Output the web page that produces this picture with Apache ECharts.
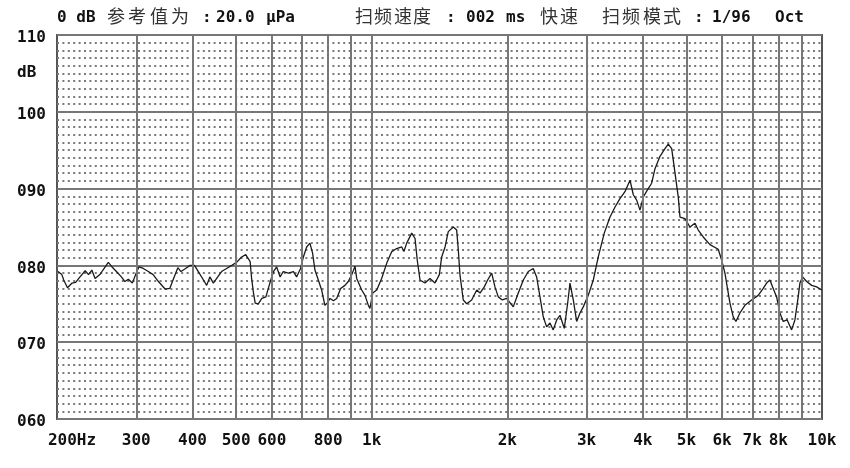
<!DOCTYPE html>
<html><head><meta charset="utf-8">
<script src="https://cdn.jsdelivr.net/npm/echarts@6/dist/echarts.min.js"></script>
<style>html,body{margin:0;padding:0;background:#fff}#c{width:850px;height:468px}</style>
</head><body><div id="c"></div>
<script>
// ---- data ----
const freqHz = [201,205,207,211,216,220,225,231,235,239,243,249,253,260,265,271,278,283,288,294,299,304,311,319,327,336,348,356,362,371,377,386,395,404,412,423,430,437,445,455,464,476,489,501,514,525,537,541,546,551,560,570,582,594,605,615,626,636,653,670,681,695,705,717,729,739,748,761,774,787,797,808,822,836,853,872,887,903,918,926,950,966,983,991,1005,1026,1052,1080,1108,1136,1166,1179,1196,1227,1248,1262,1280,1313,1347,1382,1413,1430,1455,1479,1518,1544,1557,1570,1597,1625,1667,1711,1740,1778,1809,1847,1878,1910,1950,1994,2062,2116,2171,2227,2284,2324,2364,2404,2446,2488,2530,2575,2619,2677,2724,2756,2803,2852,2901,2950,3026,3105,3185,3284,3382,3470,3559,3651,3746,3810,3876,3942,4010,4092,4185,4257,4367,4480,4556,4636,4674,4739,4795,4837,4961,5090,5222,5311,5448,5638,5882,5985,6087,6159,6245,6351,6439,6572,6742,6977,7217,7404,7533,7662,7768,7929,8064,8201,8370,8561,8706,8854,8932,9056,9243,9485,9731,9982];
const levelDb = [79.2,78.8,78.1,77.1,77.7,77.8,78.5,79.3,78.8,79.4,78.3,78.8,79.4,80.4,79.8,79.2,78.5,77.9,78.2,77.7,78.8,79.8,79.6,79.2,78.8,77.9,76.9,77.0,78.1,79.7,79.2,79.6,80.0,80.0,79.2,78.1,77.4,78.5,77.7,78.5,79.2,79.6,80.0,80.4,81.1,81.4,80.5,78.3,76.5,75.1,75.0,75.7,75.9,77.7,79.2,79.8,78.5,79.2,79.0,79.2,78.5,79.6,81.1,82.4,82.9,81.6,79.4,78.1,76.8,74.8,75.1,75.7,75.4,75.7,77.0,77.4,77.9,78.8,79.9,78.3,76.8,76.1,74.8,74.4,76.4,76.8,78.3,80.3,81.8,82.2,82.4,81.8,82.9,84.2,83.5,80.7,78.1,77.7,78.3,77.7,78.8,81.1,82.4,84.4,85.0,84.6,82.0,78.8,75.5,75.0,75.5,76.8,76.4,77.2,78.1,79.0,77.2,75.9,75.5,75.7,74.6,76.4,78.1,79.2,79.6,78.5,75.9,73.3,72.0,72.5,71.6,72.9,73.5,71.8,75.1,77.7,75.5,72.7,73.8,74.6,76.1,78.1,81.1,84.2,86.3,87.6,88.7,89.6,91.1,89.2,88.5,87.2,88.9,89.8,90.7,92.6,94.2,95.2,95.8,95.2,93.7,91.1,88.9,86.3,86.1,85.0,85.5,84.6,83.7,82.7,82.1,80.7,79.0,77.2,75.1,73.3,72.7,73.8,74.8,75.5,76.1,77.0,77.7,78.1,77.2,75.9,73.8,72.7,72.9,71.6,72.9,75.9,77.7,78.5,77.9,77.4,77.2,76.8];
const gridFreqs = [300,400,500,600,700,800,900,1000,2000,3000,4000,5000,6000,7000,8000,9000];
const tickFreqs = [200,300,400,500,600,800,1000,2000,3000,4000,5000,6000,7000,8000,10000];
const tickLabels = ['200Hz','300','400','500','600','800','1k','2k','3k','4k','5k','6k','7k','8k','10k'];
const yTicks = [60,70,80,90,100,110];
const yTickLabels = ['060','070','080','090','100','110'];
const headerLatin = [['0 dB',57],[':',202],['20.0',216],['\u03bcPa',266],[':',446],['002',466],['ms',506],[':',694],['1/96',712],['Oct',775]];
const headerCjk = [['参',107],['考',128],['值',150],['为',171],['扫',355],['频',374],['速',394],['度',413],['快',540],['速',560],['扫',602],['频',622],['模',643],['式',663]];
const yUnit = 'dB';

// ---- chart ----
const mono = 'DejaVu Sans Mono';
const chart = echarts.init(document.getElementById('c'), null, {renderer: 'canvas'});
function xLabel(v) {
  let best = 0, bd = Infinity;
  tickFreqs.forEach((f, i) => { const d = Math.abs(Math.log10(f) - Math.log10(v)); if (d < bd) { bd = d; best = i; } });
  if (bd > 0.01) return '';
  return best === 0 ? '{first|' + tickLabels[0] + '}' : tickLabels[best];
}
const graphics = [];
headerLatin.forEach(([t, x]) => graphics.push({type: 'text', left: x, top: 10, silent: true,
  style: {text: t, font: 'bold 16px "DejaVu Sans Mono"', fill: '#111'}}));
headerCjk.forEach(([t, x]) => graphics.push({type: 'text', left: x, top: 7, silent: true,
  style: {text: t, font: '18px "Noto Sans CJK SC"', fill: '#333'}}));
graphics.push({type: 'text', left: 17, top: 65, silent: true,
  style: {text: yUnit, font: 'bold 16px "DejaVu Sans Mono"', fill: '#111'}});

chart.setOption({
  animation: false,
  backgroundColor: '#fff',
  grid: {left: 57, right: 28, top: 35, bottom: 49, show: true, borderColor: '#555', borderWidth: 2,
    backgroundColor: 'transparent', outerBoundsMode: 'none', containLabel: false},
  xAxis: {
    type: 'log', logBase: 10, min: 200, max: 10000,
    axisLine: {show: false}, axisTick: {show: false},
    splitLine: {show: false}, minorSplitLine: {show: false},
    axisLabel: {
      customValues: tickFreqs, formatter: xLabel, interval: 0, hideOverlap: false,
      showMinLabel: true, showMaxLabel: true,
      fontFamily: mono, fontWeight: 'bold', fontSize: 16, color: '#111', margin: 14,
      rich: {first: {fontFamily: mono, fontWeight: 'bold', fontSize: 16, color: '#111', padding: [0, 0, 0, 30]}}
    }
  },
  yAxis: {
    type: 'value', min: 60, max: 110, interval: 10,
    axisLine: {show: false}, axisTick: {show: false},
    axisLabel: {formatter: v => yTickLabels[yTicks.indexOf(v)], fontFamily: mono, fontWeight: 'bold',
      fontSize: 16, color: '#111', margin: 11, verticalAlign: 'top', lineHeight: 6},
    splitLine: {show: true, lineStyle: {color: '#777', width: 2}},
    minorTick: {show: false, splitNumber: 10},
    minorSplitLine: {show: true, lineStyle: {color: '#7a7a7a', width: 2, type: [2, 3.4]}}
  },
  series: [
    {type: 'line', data: [], silent: true, z: 1,
      markLine: {silent: true, symbol: 'none', animation: false, label: {show: false},
        lineStyle: {color: '#777', width: 2, type: 'solid'},
        emphasis: {disabled: true},
        data: gridFreqs.map(f => ({xAxis: f}))}},
    {type: 'line', data: freqHz.map((f, i) => [f, levelDb[i]]), showSymbol: false, symbol: 'none',
      z: 3, silent: true, lineStyle: {color: '#1a1a1a', width: 1.3}}
  ],
  graphic: graphics
});
</script></body></html>
